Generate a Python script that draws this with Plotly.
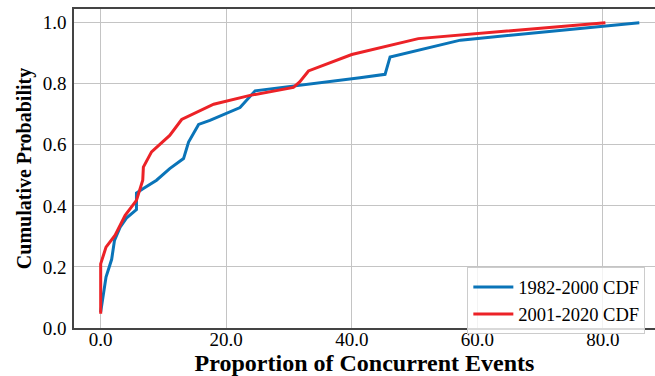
import plotly.graph_objects as go

# 1982-2000 CDF
x_old = [0.0, 0.85, 1.75, 2.2, 3.1, 4.1, 5.7, 5.7, 6.8, 8.9, 11.0, 13.2, 14.0, 15.6, 17.4,
         22.2, 24.6, 30.7, 31.7, 41.3, 45.3, 46.1, 57.3, 78.5, 85.8]
y_old = [0.052, 0.167, 0.225, 0.287, 0.33, 0.36, 0.388, 0.442, 0.457, 0.484, 0.522, 0.555, 0.609, 0.667, 0.68,
         0.722, 0.777, 0.792, 0.795, 0.820, 0.831, 0.888, 0.943, 0.986, 1.0]

# 2001-2020 CDF
x_new = [0.0, 0.0, 0.85, 2.3, 3.9, 5.7, 6.7, 6.8, 8.1, 11.0, 12.9, 15.8, 18.0, 23.8, 30.7,
         31.7, 33.1, 40.0, 50.6, 64.7, 80.4]
y_new = [0.047, 0.21, 0.265, 0.304, 0.369, 0.418, 0.484, 0.527, 0.577, 0.631, 0.683, 0.713, 0.733, 0.762, 0.788,
         0.806, 0.842, 0.896, 0.948, 0.973, 1.0]

x_ticks = [0, 20, 40, 60, 80]
x_tick_labels = ["0.0", "20.0", "40.0", "60.0", "80.0"]
y_ticks = [0.0, 0.2, 0.4, 0.6, 0.8, 1.0]
y_tick_labels = ["0.0", "0.2", "0.4", "0.6", "0.8", "1.0"]

FONT = "Liberation Serif"

fig = go.Figure()
fig.add_trace(go.Scatter(x=x_old, y=y_old, mode="lines", name="1982-2000 CDF",
                         line=dict(color="#0a74b8", width=3)))
fig.add_trace(go.Scatter(x=x_new, y=y_new, mode="lines", name="2001-2020 CDF",
                         line=dict(color="#ec2227", width=3)))

fig.update_layout(
    width=655, height=376,
    margin=dict(l=74, r=0, t=9, b=48),
    paper_bgcolor="white", plot_bgcolor="white",
    font=dict(family=FONT, color="black", size=18),
    showlegend=True,
    legend=dict(x=0.677, y=0.19, xanchor="left", yanchor="top",
                bgcolor="rgba(255,255,255,0.8)", bordercolor="#cccccc", borderwidth=1,
                font=dict(family=FONT, size=18.5), tracegroupgap=0, itemwidth=40),
    xaxis=dict(range=[-4.25, 88.3], tickvals=x_ticks, ticktext=x_tick_labels,
               showgrid=True, gridcolor="#c4c4c4", gridwidth=1, zeroline=False,
               showline=True, linecolor="#444444", linewidth=1.5, mirror=True,
               ticks="", ticklabelstandoff=-7,
               tickfont=dict(family=FONT, size=19, color="black"),
               title=dict(text="<b>Proportion of Concurrent Events</b>",
                          font=dict(family=FONT, size=24), standoff=3)),
    yaxis=dict(range=[0.0, 1.045], tickvals=y_ticks, ticktext=y_tick_labels,
               showgrid=True, gridcolor="#c4c4c4", gridwidth=1, zeroline=False,
               showline=True, linecolor="#444444", linewidth=1.5, mirror=False,
               ticks="", ticklabelstandoff=2,
               tickfont=dict(family=FONT, size=19, color="black"),
               title=dict(text="<b>Cumulative Probability</b>",
                          font=dict(family=FONT, size=20), standoff=6)),
)

fig.write_html("out.html")
